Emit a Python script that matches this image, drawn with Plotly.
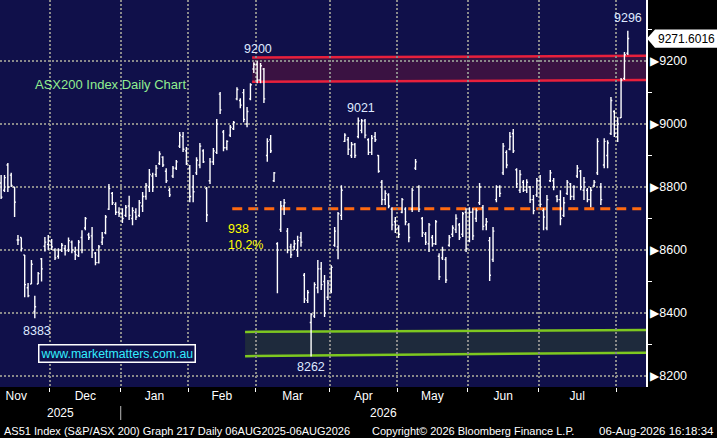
import numpy as np
import pandas as pd
import plotly.graph_objects as go

# AS51 daily bars, 10 Nov 2025 - 06 Aug 2026
opens = [8813, 8790, 8870, 8838, 8800, 8632, 8640, 8584, 8480, 8492,
         8405, 8492, 8572, 8612, 8618, 8625, 8600, 8580, 8600, 8605,
         8600, 8625, 8595, 8582, 8640, 8670, 8648, 8645, 8590, 8560,
         8625, 8655, 8730, 8780, 8745, 8720, 8715, 8710, 8740, 8700,
         8720, 8710, 8740, 8770, 8800, 8835, 8840, 8875, 8895, 8850,
         8790, 8835, 8860, 8930, 8960, 8915, 8860, 8800, 8845, 8870,
         8915, 8795, 8820, 8880, 8910, 9095, 8975, 8925, 8965, 8985,
         9080, 9075, 9100, 9000, 9080, 9175, 9190, 9140, 9175, 8900,
         8950, 8820, 8620, 8665, 8740, 8660, 8610, 8610, 8600, 8640,
         8520, 8440, 8370, 8390, 8480, 8540, 8500, 8450, 8470, 8615,
         8610, 8710, 8945, 8950, 8900, 8935, 8960, 8980, 9010, 8950,
         8910, 8960, 8900, 8815, 8760, 8775, 8730, 8690, 8670, 8720,
         8730, 8680, 8730, 8860, 8800, 8700, 8650, 8620, 8640, 8620,
         8580, 8575, 8570, 8615, 8650, 8665, 8680, 8650, 8720, 8630,
         8720, 8700, 8750, 8735, 8680, 8630, 8570, 8760, 8800, 8845,
         8910, 8920, 8970, 8855, 8790, 8815, 8790, 8800, 8760, 8775,
         8820, 8725, 8670, 8820, 8820, 8770, 8760, 8710, 8780, 8810,
         8770, 8835, 8850, 8790, 8790, 8760, 8805, 8845, 8800, 8870,
         8900, 8970, 9040, 8960, 9020, 9145, 9225]
highs = [8838, 8838, 8876, 8845, 8800, 8648, 8640, 8584, 8495, 8568,
         8455, 8530, 8575, 8641, 8648, 8635, 8606, 8606, 8622, 8616,
         8640, 8630, 8610, 8632, 8663, 8705, 8655, 8673, 8594, 8616,
         8657, 8711, 8810, 8784, 8752, 8736, 8733, 8743, 8772, 8736,
         8733, 8759, 8784, 8813, 8857, 8845, 8870, 8914, 8898, 8860,
         8797, 8867, 8886, 8975, 8975, 8927, 8870, 8838, 8895, 8940,
         8920, 8800, 8892, 8924, 9016, 9102, 8981, 8949, 8997, 9010,
         9117, 9082, 9111, 9054, 9130, 9196, 9200, 9194, 9178, 8955,
         8965, 8848, 8625, 8756, 8762, 8670, 8620, 8632, 8645, 8657,
         8527, 8473, 8400, 8498, 8568, 8562, 8521, 8505, 8552, 8673,
         8721, 8806, 8971, 8959, 8943, 8940, 9021, 9016, 9016, 8955,
         8965, 8975, 8902, 8822, 8790, 8780, 8736, 8705, 8679, 8765,
         8736, 8686, 8797, 8889, 8806, 8705, 8657, 8686, 8648, 8695,
         8590, 8610, 8578, 8648, 8679, 8714, 8686, 8721, 8733, 8736,
         8733, 8733, 8813, 8743, 8702, 8641, 8673, 8806, 8806, 8940,
         8917, 8975, 8984, 8860, 8854, 8822, 8825, 8803, 8775, 8829,
         8838, 8733, 8775, 8854, 8829, 8775, 8790, 8768, 8822, 8813,
         8806, 8870, 8854, 8832, 8797, 8800, 8822, 8955, 8813, 8955,
         8949, 9086, 9044, 9022, 9146, 9229, 9296]
lows = [8762, 8784, 8784, 8800, 8705, 8616, 8595, 8450, 8450, 8492,
        8383, 8492, 8500, 8595, 8600, 8600, 8568, 8572, 8594, 8583,
        8594, 8590, 8568, 8578, 8590, 8663, 8632, 8575, 8552, 8557,
        8616, 8650, 8727, 8743, 8711, 8705, 8686, 8705, 8695, 8679,
        8695, 8705, 8721, 8760, 8784, 8784, 8832, 8870, 8864, 8813,
        8768, 8829, 8854, 8924, 8911, 8870, 8752, 8752, 8838, 8860,
        8876, 8689, 8810, 8870, 8905, 9032, 8914, 8917, 8959, 8981,
        9076, 9050, 9006, 8990, 9076, 9162, 9130, 9130, 9067, 8880,
        8908, 8816, 8463, 8657, 8711, 8590, 8575, 8600, 8578, 8610,
        8432, 8432, 8262, 8384, 8463, 8473, 8387, 8441, 8463, 8610,
        8571, 8695, 8943, 8902, 8892, 8892, 8955, 8971, 8955, 8902,
        8902, 8943, 8845, 8743, 8743, 8733, 8663, 8654, 8638, 8717,
        8679, 8625, 8721, 8854, 8721, 8641, 8616, 8594, 8610, 8616,
        8505, 8568, 8495, 8610, 8641, 8654, 8632, 8641, 8594, 8625,
        8632, 8689, 8743, 8663, 8663, 8502, 8562, 8752, 8768, 8838,
        8860, 8917, 8908, 8797, 8781, 8784, 8781, 8749, 8714, 8768,
        8736, 8663, 8663, 8816, 8790, 8752, 8679, 8705, 8775, 8759,
        8759, 8829, 8790, 8759, 8752, 8736, 8800, 8838, 8743, 8860,
        8860, 8965, 8959, 8943, 9019, 9140, 9219]
closes = [8768, 8830, 8800, 8805, 8752, 8632, 8605, 8490, 8455, 8555,
          8420, 8525, 8540, 8625, 8630, 8610, 8575, 8600, 8615, 8598,
          8630, 8600, 8585, 8625, 8600, 8700, 8640, 8600, 8560, 8610,
          8640, 8705, 8795, 8750, 8720, 8715, 8700, 8735, 8710, 8725,
          8705, 8750, 8770, 8805, 8840, 8800, 8860, 8905, 8870, 8820,
          8775, 8860, 8880, 8965, 8920, 8875, 8770, 8785, 8885, 8930,
          8880, 8711, 8880, 8915, 9000, 9045, 8925, 8945, 8990, 9005,
          9110, 9060, 9015, 9040, 9125, 9190, 9140, 9185, 9080, 8945,
          8915, 8845, 8600, 8740, 8750, 8600, 8585, 8620, 8630, 8625,
          8445, 8465, 8395, 8490, 8540, 8490, 8400, 8495, 8545, 8660,
          8715, 8790, 8965, 8920, 8935, 8900, 9010, 9010, 8965, 8910,
          8955, 8950, 8850, 8760, 8780, 8740, 8680, 8665, 8650, 8760,
          8690, 8640, 8790, 8880, 8730, 8655, 8625, 8680, 8620, 8690,
          8515, 8600, 8505, 8640, 8670, 8700, 8640, 8715, 8605, 8720,
          8645, 8725, 8800, 8675, 8690, 8520, 8660, 8800, 8780, 8930,
          8870, 8960, 8915, 8810, 8840, 8790, 8815, 8760, 8725, 8820,
          8745, 8705, 8760, 8845, 8800, 8760, 8700, 8750, 8815, 8770,
          8800, 8860, 8800, 8815, 8760, 8790, 8815, 8945, 8760, 8945,
          8940, 9075, 8970, 9000, 9140, 9220, 9271.6016]

asx_holidays = ["2025-12-25", "2025-12-26", "2026-01-01", "2026-01-26",
                "2026-04-03", "2026-04-06", "2026-06-08"]
dates = pd.bdate_range("2025-11-10", "2026-08-06").drop(pd.to_datetime(asx_holidays))
idx = np.arange(len(dates))

NAVY = "#10104a"
GRID = "#8a8a8a"
X0, X1 = -0.33, 191.4
Y0, Y1 = 8165, 9394


def xp(v):
    return (v - X0) / (X1 - X0)


def yp(v):
    return (v - Y0) / (Y1 - Y0)


# month boundaries (between bars) and label centres
bounds = [i - 0.5 for i in idx[1:] if dates[i].month != dates[i - 1].month]
first = -np.busday_count(dates[0].strftime("%Y-%m-01"), dates[0].strftime("%Y-%m-%d")) - 0.5
starts = [first] + bounds[:-1]
ends = bounds
centers = [(a + b) / 2 for a, b in zip(starts, ends)]
month_names = [dates[int(np.ceil(max(s, 0)))].strftime("%b") for s in starts]
jan_bound = [b for b in bounds if dates[int(b + 0.5)].month == 1][0]

fig = go.Figure(go.Ohlc(
    x=idx, open=opens, high=highs, low=lows, close=closes,
    increasing_line_color="white", decreasing_line_color="white",
    line_width=1.4, tickwidth=0.4,
))

# key levels from the data
peak_a = int(np.argmax(highs[:100]))
peak_b = 100 + int(np.argmax(highs[100:130]))
low_a = int(np.argmin(lows[:40]))
low_b = int(np.argmin(lows))
last = len(closes) - 1
move = highs[peak_a] - lows[low_b]
half = (highs[peak_a] + lows[low_b]) / 2

shapes = [
    # resistance band
    dict(type="path", layer="below", xref="x", yref="y", line_width=0,
         fillcolor="#3a1242",
         path=f"M 74.5,9211 L {X1},9217 L {X1},9140 L 74.5,9134 Z"),
    dict(type="line", layer="below", xref="x", yref="y", x0=74.5, y0=9211, x1=X1, y1=9217,
         line=dict(color="#e8203c", width=2.5)),
    dict(type="line", layer="below", xref="x", yref="y", x0=74.5, y0=9134, x1=X1, y1=9140,
         line=dict(color="#e8203c", width=2.5)),
    # support band
    dict(type="path", layer="below", xref="x", yref="y", line_width=0,
         fillcolor="#1e2a3c",
         path=f"M 72.4,8340 L {X1},8346 L {X1},8274 L 72.4,8263 Z"),
    dict(type="line", layer="below", xref="x", yref="y", x0=72.4, y0=8340, x1=X1, y1=8346,
         line=dict(color="#7ec820", width=2.5)),
    dict(type="line", layer="below", xref="x", yref="y", x0=72.4, y0=8263, x1=X1, y1=8274,
         line=dict(color="#7ec820", width=2.5)),
    # 50% retracement
    dict(type="line", layer="below", xref="x", yref="y", x0=68.6, y0=half, x1=190, y1=half,
         line=dict(color="#ff6a10", width=3, dash="10px,6px")),
    # year divider under the axis
    dict(type="line", xref="paper", yref="paper", x0=xp(jan_bound), x1=xp(jan_bound),
         y0=-19 / 387, y1=-33 / 387, line=dict(color="#bbbbbb", width=1)),
    # last price tag
    dict(type="path", xref="paper", yref="paper", line_width=0, fillcolor="white",
         path=(f"M 1.0015,{yp(closes[-1])} L 1.0139,{yp(closes[-1] + 29)} "
               f"L 1.11,{yp(closes[-1] + 29)} L 1.11,{yp(closes[-1] - 29)} "
               f"L 1.0139,{yp(closes[-1] - 29)} Z")),
]

lbl = dict(color="#dfe9ff", size=12.5)
yel = dict(color="#ffff00", size=12.5)
foot = dict(color="white", size=11)
annotations = [
    dict(x=peak_a, y=highs[peak_a], text=f"{highs[peak_a]:.0f}", yshift=12, xshift=1, font=lbl),
    dict(x=peak_b, y=highs[peak_b], text=f"{highs[peak_b]:.0f}", yshift=9, xshift=3, font=lbl),
    dict(x=last, y=highs[last], text=f"{highs[last]:.0f}", yshift=13, font=lbl),
    dict(x=low_a, y=lows[low_a], text=f"{lows[low_a]:.0f}", yshift=-13, xshift=2, font=lbl),
    dict(x=low_b, y=lows[low_b], text=f"{lows[low_b]:.0f}", yshift=-11, font=lbl),
    dict(x=66.7, y=half, text=f"{move:.0f}", xanchor="left", yshift=-20, font=yel),
    dict(x=66.7, y=half, text=f"{move / highs[peak_a] * 100:.1f}%", xanchor="left",
         yshift=-36, font=yel),
    dict(xref="paper", yref="paper", x=33 / 646, y=(387 - 84) / 387, xanchor="left",
         text="ASX200 Index Daily Chart", font=dict(color="#90ee90", size=13)),
    dict(xref="paper", yref="paper", x=117 / 646, y=(387 - 353) / 387,
         text="www.marketmatters.com.au", font=dict(color="#33eeff", size=12.3),
         bordercolor="white", borderwidth=1.5, borderpad=1, bgcolor=NAVY),
    dict(xref="paper", yref="y", x=686 / 646, y=closes[-1], text=f"{closes[-1]:.4f}",
         font=dict(color="black", size=12)),
    dict(xref="paper", yref="paper", x=xp((X0 + jan_bound) / 2), y=0, yshift=-26,
         text=str(dates[0].year), font=dict(color="white", size=12)),
    dict(xref="paper", yref="paper", x=xp((jan_bound + X1) / 2), y=0, yshift=-26,
         text=str(dates[-1].year), font=dict(color="white", size=12)),
    dict(xref="paper", yref="paper", x=2 / 646, y=0, yshift=-43.5, xanchor="left",
         text="AS51 Index (S&P/ASX 200) Graph 217 Daily 06AUG2025-06AUG2026", font=foot),
    dict(xref="paper", yref="paper", x=370 / 646, y=0, yshift=-43.5, xanchor="left",
         text="Copyright© 2026 Bloomberg Finance L.P.", font=foot),
    dict(xref="paper", yref="paper", x=716 / 646, y=0, yshift=-43.5, xanchor="right",
         text="06-Aug-2026 16:18:34", font=dict(color="white", size=11.5)),
]
for a in annotations:
    a.setdefault("showarrow", False)
    a.setdefault("xanchor", "center")
    a.setdefault("yanchor", "middle")

ytick = list(range(8200, 9201, 200))
fig.update_layout(
    width=717, height=438,
    margin=dict(l=0, r=71, t=0, b=51, autoexpand=False),
    paper_bgcolor="black", plot_bgcolor=NAVY,
    font=dict(family="Liberation Sans, Arial, sans-serif", color="white"),
    showlegend=False,
    shapes=shapes, annotations=annotations,
    xaxis=dict(
        range=[X0, X1], rangeslider_visible=False, showline=False, zeroline=False,
        automargin=False,
        tickmode="array", tickvals=centers, ticktext=month_names, ticks="",
        showgrid=False, tickfont=dict(size=12, color="white"),
        minor=dict(tickmode="array", tickvals=bounds, ticks="outside", ticklen=4,
                   tickcolor="white", showgrid=True, gridcolor=GRID, gridwidth=1.5,
                   griddash="2px,2px"),
    ),
    yaxis=dict(
        side="right", range=[Y0, Y1], zeroline=False, automargin=False,
        showline=True, linecolor="white", linewidth=1.5,
        tickmode="array", tickvals=ytick,
        ticktext=[f"<span style='font-size:12px'>▶</span>{v}" for v in ytick],
        ticks="", tickfont=dict(size=12.5, color="white"),
        showgrid=True, gridcolor=GRID, gridwidth=1.5, griddash="2px,2px",
        minor=dict(tickmode="array", tickvals=list(range(8300, 9400, 200)),
                   ticks="outside", ticklen=4, tickcolor="white", showgrid=False),
    ),
)

# the page's default body margin would push the figure off the window
fig.write_html("out.html", config={"displayModeBar": False},
               post_script="document.body.style.margin = '0';")
